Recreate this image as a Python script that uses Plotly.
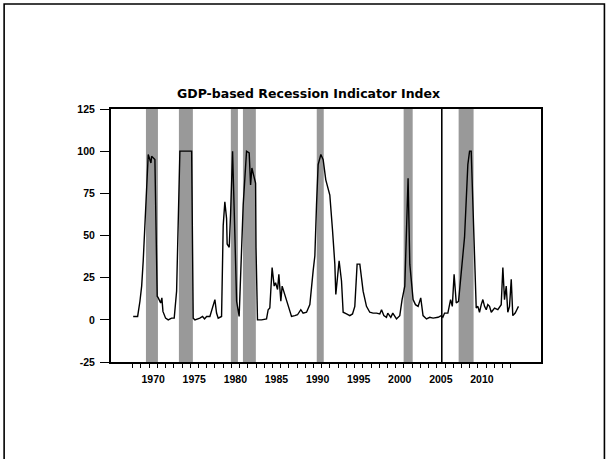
import plotly.graph_objects as go

# Data (decimal years, index value)
years = [1968.06, 1968.60, 1968.88, 1969.09, 1969.28, 1969.89, 1970.22, 1970.30, 1970.70, 1970.98,
         1971.11, 1971.40, 1971.55, 1971.68, 1972.00, 1972.32, 1972.73, 1973.05, 1973.34, 1973.74,
         1974.23, 1975.17, 1975.36, 1975.57, 1976.17, 1976.50, 1976.74, 1976.99, 1977.39, 1977.72,
         1978.00, 1978.20, 1978.40, 1978.81, 1979.01, 1979.21, 1979.42, 1979.49, 1979.74, 1979.91,
         1980.15, 1980.43, 1980.64, 1980.95, 1981.22, 1981.44, 1981.85, 1982.17, 1982.34, 1982.50,
         1982.65, 1982.95, 1983.00, 1983.18, 1983.68, 1984.28, 1984.48, 1984.68, 1984.96, 1985.21,
         1985.38, 1985.62, 1985.78, 1986.02, 1986.18, 1986.51, 1986.91, 1987.32, 1987.72, 1988.05,
         1988.45, 1988.73, 1989.15, 1989.55, 1989.95, 1990.16, 1990.36, 1990.56, 1990.89, 1991.17,
         1991.49, 1991.77, 1991.98, 1992.31, 1992.59, 1992.71, 1992.87, 1993.11, 1993.40, 1993.60,
         1994.01, 1994.41, 1994.74, 1995.02, 1995.30, 1995.63, 1995.83, 1996.03, 1996.44, 1996.84,
         1997.24, 1997.66, 1998.06, 1998.27, 1998.55, 1998.87, 1999.03, 1999.40, 1999.64, 2000.09,
         2000.49, 2000.77, 2001.10, 2001.50, 2001.71, 2002.11, 2002.40, 2002.72, 2003.04, 2003.32,
         2003.74, 2004.14, 2004.54, 2005.15, 2005.54, 2005.73, 2005.94, 2006.34, 2006.67, 2006.88,
         2007.10, 2007.36, 2007.64, 2008.37, 2008.77, 2008.98, 2009.18, 2009.38, 2009.59, 2009.79,
         2009.99, 2010.19, 2010.40, 2010.60, 2010.80, 2011.01, 2011.20, 2011.41, 2011.62, 2012.02,
         2012.42, 2012.83, 2013.03, 2013.23, 2013.44, 2013.63, 2013.84, 2014.05, 2014.24, 2014.53,
         2014.73, 2014.93]
index_values = [2, 2, 11, 20, 35, 98, 93, 97, 95, 14,
                13, 10, 13, 5, 1, 0, 1, 1, 17, 100,
                100, 100, 1, 0, 1, 2, 0.5, 2, 2, 8,
                12, 4, 1, 2, 56, 70, 60, 45, 43, 63,
                100, 50, 11, 2, 35, 68, 100, 99, 80, 90,
                87, 81, 43, 0, 0, 0.5, 6, 7, 31, 20,
                22, 18, 27, 11, 20, 15, 8, 2, 2.5, 3,
                6, 4, 4.5, 9, 29, 38, 68, 92, 98, 95,
                83, 78, 74, 53, 33, 15, 24, 35, 23, 4.5,
                3.5, 2.5, 3.5, 8, 33, 33, 25, 17, 8, 4.5,
                4, 4, 3.5, 6, 2.5, 1.5, 4, 1.5, 4, 0.5,
                2.5, 12, 20, 84, 33, 12, 9, 8, 13, 2.5,
                0.5, 1.5, 1, 1.5, 2.5, 1.5, 4, 4, 12, 8,
                27, 10, 11, 49, 92, 100, 100, 68, 31, 7,
                8, 4.5, 9, 12, 8, 6, 9, 8, 4.5, 7,
                6, 9, 31, 12, 20, 4.5, 8, 24, 2.5, 4,
                6, 8]

# Recession shading periods (start, end)
rec_start = [1969.61, 1973.62, 1979.94, 1981.41, 1990.39, 2000.96, 2007.65]
rec_end = [1971.07, 1975.32, 1980.80, 1982.98, 1991.24, 2002.06, 2009.47]

marker_year = 2005.6

tick_years = list(range(1968, 2015))
label_years = [1970, 1975, 1980, 1985, 1990, 1995, 2000, 2005, 2010]
y_ticks = [-25, 0, 25, 50, 75, 100, 125]

title_text = "GDP-based Recession Indicator Index"

fig = go.Figure()
fig.add_trace(go.Scatter(x=years, y=index_values, mode="lines",
                         line=dict(color="black", width=1.4), showlegend=False,
                         hoverinfo="skip"))

shapes = []
for s, e in zip(rec_start, rec_end):
    shapes.append(dict(type="rect", xref="x", yref="y", x0=s, x1=e, y0=-25, y1=125,
                       fillcolor="#999999", line=dict(width=0), layer="below"))
shapes.append(dict(type="line", xref="x", yref="y", x0=marker_year, x1=marker_year,
                   y0=-25, y1=125, line=dict(color="black", width=1.6)))
# outer frame
shapes.append(dict(type="rect", xref="paper", yref="paper",
                   x0=(4 - 111) / 430.5, x1=(605 - 111) / 430.5,
                   y0=(362 - 480) / 253, y1=(362 - 4) / 253,
                   line=dict(color="black", width=1.6), fillcolor="rgba(0,0,0,0)", layer="below"))

tickfont = dict(family="Liberation Sans", size=10.5, color="black", weight="bold")

fig.update_layout(
    width=609, height=459,
    margin=dict(l=111, r=67.5, t=109, b=97, pad=0),
    paper_bgcolor="white", plot_bgcolor="white",
    shapes=shapes,
    showlegend=False,
    annotations=[dict(text="<b>" + title_text + "</b>", xref="paper", yref="paper",
                      x=(308.5 - 111) / 430.5, y=(362 - 94) / 253,
                      xanchor="center", yanchor="middle", showarrow=False,
                      font=dict(family="DejaVu Sans", size=12.5, color="black"))],
)

fig.update_xaxes(range=[1965.36, 2017.67], showgrid=False, zeroline=False,
                 showline=True, linecolor="black", linewidth=2, mirror=True,
                 tickmode="array", tickvals=tick_years,
                 ticktext=[str(y) if y in label_years else "" for y in tick_years],
                 ticks="outside", ticklen=4, tickwidth=1.2, tickcolor="black",
                 ticklabelshift=4, ticklabelstandoff=2,
                 tickfont=tickfont)
fig.update_yaxes(range=[-25, 125], showgrid=False, zeroline=False,
                 showline=True, linecolor="black", linewidth=2, mirror=True,
                 tickmode="array", tickvals=y_ticks, ticktext=[str(v) for v in y_ticks],
                 ticks="outside", ticklen=9, tickwidth=1.2, tickcolor="black",
                 ticklabelstandoff=3,
                 tickfont=tickfont)

fig.write_html("out.html")
